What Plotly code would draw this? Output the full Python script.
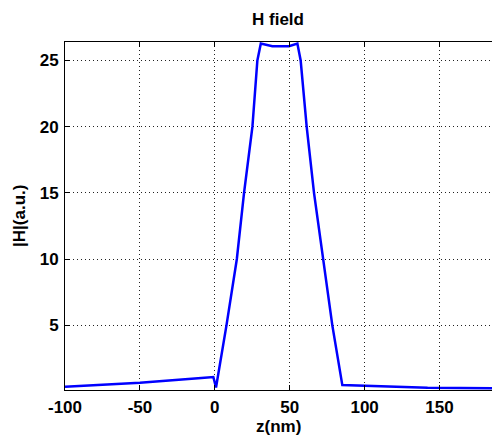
import plotly.graph_objects as go

z_nm = [-100, -50, -9, -1, 0.8, 7.8, 14.7, 19.5, 25.1, 28.4, 30.7, 38.4, 49.5, 55.1,
        57.3, 61.3, 66.2, 72.2, 78.4, 85.1, 90.7, 99.5, 115, 142, 185]
h_abs = [0.34, 0.64, 1.0, 1.08, 0.29, 5.0, 10.0, 15.0, 20.0, 25.0, 26.28, 26.08, 26.08, 26.28,
         25.0, 20.0, 15.0, 10.0, 5.0, 0.47, 0.45, 0.41, 0.34, 0.27, 0.24]

x_ticks = [-100, -50, 0, 50, 100, 150]
x_tick_text = ["-100", "-50", "0", "50", "100", "150"]
y_ticks = [5, 10, 15, 20, 25]
y_tick_text = ["5", "10", "15", "20", "25"]

font_family = "Liberation Sans, Arial, sans-serif"

fig = go.Figure()
fig.add_trace(go.Scatter(x=z_nm, y=h_abs, mode="lines",
                         line=dict(color="#0000ff", width=2.5), showlegend=False))

L, T, R, B = 65, 42, 492, 390
W, H = 492, 437
pw, ph = R - L, B - T

def px(x):
    return (x - L) / pw

def py(y):
    return (B - y) / ph

fig.update_layout(
    width=W, height=H,
    paper_bgcolor="white", plot_bgcolor="white",
    margin=dict(l=L, r=W - R, t=T, b=H - B, autoexpand=False),
    font=dict(family=font_family, size=17, color="black", weight="bold"),
    annotations=[
        dict(text="H field", xref="paper", yref="paper", x=px(278), y=py(20),
             xanchor="center", yanchor="middle", showarrow=False,
             font=dict(size=17, weight="bold")),
        dict(text="z(nm)", xref="paper", yref="paper", x=px(278), y=py(427),
             xanchor="center", yanchor="middle", showarrow=False,
             font=dict(size=17, weight="bold")),
        dict(text="|H|(a.u.)", xref="paper", yref="paper", x=px(19), y=py(216),
             xanchor="center", yanchor="middle", showarrow=False, textangle=-90,
             font=dict(size=17, weight="bold")),
    ],
)
fig.update_xaxes(
    range=[-100, 185], tickvals=x_ticks, ticktext=x_tick_text,
    ticks="inside", ticklen=5, tickcolor="black",
    showline=True, linecolor="black", linewidth=1, mirror="ticks", automargin=False,
    showgrid=True, gridcolor="#222", griddash="1px,3px", gridwidth=1, zeroline=False,
    tickfont=dict(size=17, weight="bold"), ticklabelstandoff=2,
)
fig.update_yaxes(
    range=[0.1, 26.4], tickvals=y_ticks, ticktext=y_tick_text,
    ticks="inside", ticklen=5, tickcolor="black",
    showline=True, linecolor="black", linewidth=1, mirror=False, automargin=False,
    showgrid=True, gridcolor="#222", griddash="1px,3px", gridwidth=1, zeroline=False,
    tickfont=dict(size=17, weight="bold"), ticklabelstandoff=2,
)

fig.write_html("out.html", config={"displayModeBar": False})

# remove the browser's default page margin so the figure sits at the window origin
with open("out.html", "r", encoding="utf-8") as f:
    html = f.read()
html = html.replace("<head>", "<head><style>html,body{margin:0;padding:0;overflow:hidden;}</style>", 1)
with open("out.html", "w", encoding="utf-8") as f:
    f.write(html)
